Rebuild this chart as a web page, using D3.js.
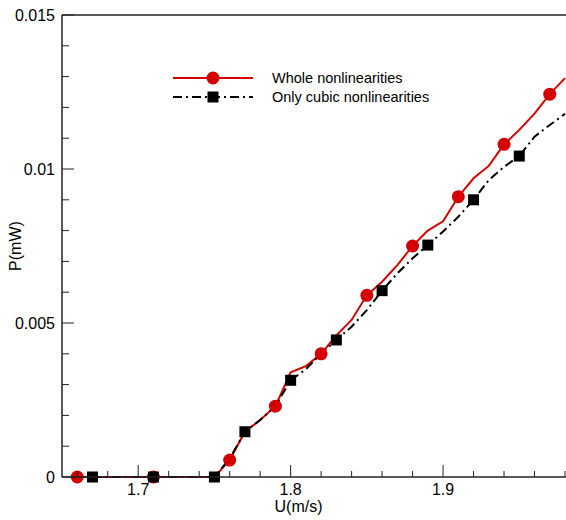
<!DOCTYPE html>
<html><head><meta charset="utf-8">
<script src="https://cdn.jsdelivr.net/npm/d3@7"></script>
<style>body{margin:0;background:#fff}svg{display:block}text{font-family:"Liberation Sans",Arial,sans-serif;fill:#000}</style>
</head><body>
<svg id="c" width="566" height="520"></svg>
<script>
// Data
const uValues = [1.66,1.67,1.68,1.69,1.70,1.71,1.72,1.73,1.74,1.75,1.76,1.77,1.78,1.79,1.80,1.81,1.82,1.83,1.84,1.85,1.86,1.87,1.88,1.89,1.90,1.91,1.92,1.93,1.94,1.95,1.96,1.97,1.98];
const wholeP = [0,0,0,0,0,0,0,0,0,0,0.00055,0.00147,0.00185,0.0023,0.0034,0.0036,0.0040,0.0046,0.0051,0.0059,0.00634,0.00688,0.0075,0.0080,0.0083,0.0091,0.0097,0.0101,0.0108,0.01127,0.0118,0.01243,0.01295];
const cubicP = [null,0,0,0,0,0,0,0,0,0,0.0006,0.00147,0.00185,0.0023,0.00314,0.0035,0.0040,0.00445,0.00488,0.00542,0.00605,0.00661,0.0071,0.00753,0.00797,0.00845,0.0090,0.00964,0.01007,0.01042,0.01105,0.01143,0.01179];
const wholeMarkerU = [1.66,1.71,1.76,1.79,1.82,1.85,1.88,1.91,1.94,1.97];
const cubicMarkerU = [1.67,1.71,1.75,1.77,1.80,1.83,1.86,1.89,1.92,1.95];
const xMajorTicks = [1.7,1.8,1.9];
const xMinorTicks = [1.66,1.68,1.72,1.74,1.76,1.78,1.82,1.84,1.86,1.88,1.92,1.94,1.96,1.98];
const yMajorTicks = [0,0.005,0.01,0.015];
const yTickLabels = ["0","0.005","0.01","0.015"];
const yMinorTicks = [0.001,0.002,0.003,0.004,0.006,0.007,0.008,0.009,0.011,0.012,0.013,0.014];
const seriesNames = ["Whole nonlinearities","Only cubic nonlinearities"];
const xTitle = "U(m/s)", yTitle = "P(mW)";

const svg = d3.select("#c");
const L=62, R=565, T=15, B=477;
const x = d3.scaleLinear().domain([1.65,1.98]).range([L,R]);
const y = d3.scaleLinear().domain([0,0.015]).range([B,T]);
const red = "#d40000";

svg.append("defs").append("clipPath").attr("id","clip").append("rect")
  .attr("x",L).attr("y",T-10).attr("width",R-L+10).attr("height",B-T+20);

const g = svg.append("g").attr("clip-path","url(#clip)");
const line = d3.line().defined(d=>d[1]!=null).x(d=>x(d[0])).y(d=>y(d[1]));
const wData = uValues.map((u,i)=>[u,wholeP[i]]);
const cData = uValues.map((u,i)=>[u,cubicP[i]]);
g.append("path").datum(wData).attr("d",line).attr("fill","none").attr("stroke",red).attr("stroke-width",2);
g.append("path").datum(cData).attr("d",line).attr("fill","none").attr("stroke","#000").attr("stroke-width",2).attr("stroke-dasharray","9,4,2,4");

const lookup = (arr,u)=>arr[uValues.findIndex(v=>Math.abs(v-u)<1e-9)];
g.selectAll("circle.w").data(wholeMarkerU).join("circle").attr("class","w")
  .attr("cx",d=>x(d)).attr("cy",d=>y(lookup(wholeP,d))).attr("r",6.5).attr("fill",red);
const s=11;
g.selectAll("rect.c").data(cubicMarkerU).join("rect").attr("class","c")
  .attr("x",d=>x(d)-s/2).attr("y",d=>y(lookup(cubicP,d))-s/2).attr("width",s).attr("height",s).attr("fill","#000");

// Axes
const ax = svg.append("g").attr("stroke","#222");
ax.append("line").attr("x1",L).attr("x2",L).attr("y1",T).attr("y2",B).attr("stroke-width",1.5);
ax.append("line").attr("x1",L).attr("x2",566).attr("y1",B).attr("y2",B).attr("stroke-width",1.5);
ax.append("line").attr("x1",L).attr("x2",566).attr("y1",T).attr("y2",T).attr("stroke-width",1.5);
ax.selectAll("line.xM").data(xMajorTicks).join("line").attr("class","xM")
  .attr("x1",d=>x(d)).attr("x2",d=>x(d)).attr("y1",B).attr("y2",B-12).attr("stroke-width",1);
ax.selectAll("line.xm").data(xMinorTicks).join("line").attr("class","xm")
  .attr("x1",d=>x(d)).attr("x2",d=>x(d)).attr("y1",B).attr("y2",B-6).attr("stroke-width",1);
ax.selectAll("line.yM").data(yMajorTicks).join("line").attr("class","yM")
  .attr("x1",L).attr("x2",L+12).attr("y1",d=>y(d)).attr("y2",d=>y(d)).attr("stroke-width",1);
ax.selectAll("line.ym").data(yMinorTicks).join("line").attr("class","ym")
  .attr("x1",L).attr("x2",L+7).attr("y1",d=>y(d)).attr("y2",d=>y(d)).attr("stroke-width",1);

svg.selectAll("text.xt").data(xMajorTicks).join("text").attr("class","xt")
  .attr("x",d=>x(d)).attr("y",B+18).attr("text-anchor","middle").attr("font-size",16).text(d=>d3.format(".1f")(d));
svg.selectAll("text.yt").data(yMajorTicks).join("text").attr("class","yt")
  .attr("x",L-7).attr("y",d=>y(d)).attr("dy","0.35em").attr("text-anchor","end").attr("font-size",16).text((d,i)=>yTickLabels[i]);
svg.append("text").attr("x",(L+R)/2-15).attr("y",512).attr("text-anchor","middle").attr("font-size",16).text(xTitle);
svg.append("text").attr("transform","translate(21,246) rotate(-90)").attr("text-anchor","middle").attr("font-size",16).text(yTitle);

// Legend
const lg = svg.append("g");
lg.append("line").attr("x1",173).attr("x2",253).attr("y1",78).attr("y2",78).attr("stroke",red).attr("stroke-width",2);
lg.append("circle").attr("cx",213).attr("cy",78).attr("r",6.5).attr("fill",red);
lg.append("line").attr("x1",173).attr("x2",253).attr("y1",97).attr("y2",97).attr("stroke","#000").attr("stroke-width",2).attr("stroke-dasharray","9,4,2,4");
lg.append("rect").attr("x",213-s/2).attr("y",97-s/2).attr("width",s).attr("height",s).attr("fill","#000");
lg.append("text").attr("x",272).attr("y",78).attr("dy","0.35em").attr("font-size",14.5).text(seriesNames[0]);
lg.append("text").attr("x",272).attr("y",97).attr("dy","0.35em").attr("font-size",14.5).text(seriesNames[1]);
</script>
</body></html>
